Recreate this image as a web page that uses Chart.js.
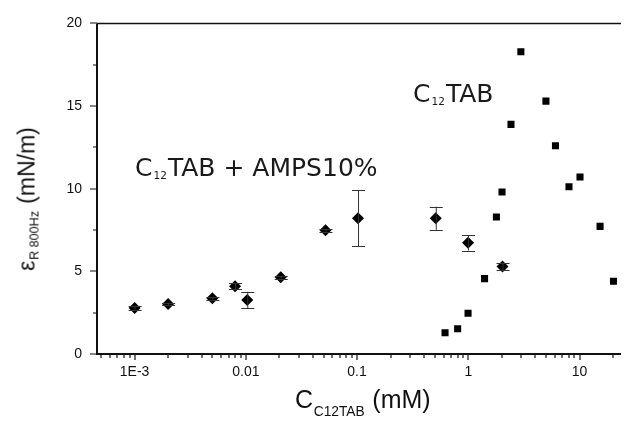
<!DOCTYPE html>
<html><head><meta charset="utf-8">
<script src="https://cdn.jsdelivr.net/npm/chart.js@4.4.0/dist/chart.umd.min.js"></script>
<style>
body{margin:0;background:#fff;}
#wrap{position:relative;width:627px;height:421px;overflow:hidden;background:#fff;}
canvas{position:absolute;left:0;top:0;}
.lbl{position:absolute;white-space:nowrap;color:#1a1a1a;font-family:"DejaVu Sans",sans-serif;font-weight:400;line-height:1;}
.lbl sub{font-size:0.42em;vertical-align:baseline;position:relative;top:0.3em;margin:0 0.1em;}
.ax{font-family:"Liberation Sans",Arial,sans-serif;font-weight:400;color:#111;}
.ax sub{font-size:0.55em;top:0.35em;margin:0 0.05em;}
.xt sub{top:0.6em;}
</style></head><body>
<div id="wrap"><canvas id="c" width="627" height="421"></canvas>
<div class="lbl" style="left:135px;top:155px;font-size:25px;">C<sub>12</sub>TAB + AMPS10%</div>
<div class="lbl" style="left:413px;top:81px;font-size:25px;">C<sub>12</sub>TAB</div>
<div class="lbl ax xt" style="left:295px;top:387px;font-size:25px;">C<sub>C12TAB</sub> (mM)</div>
<div class="lbl ax" style="left:27px;top:199px;font-size:23px;transform:translate(-50%,-50%) rotate(-90deg);">&epsilon;<sub>R 800Hz</sub> (mN/m)</div>
</div>
<script>
// C12TAB + AMPS10% (diamonds, with error bars)
const ampsX   = [0.001, 0.002, 0.005, 0.008, 0.0103, 0.0206, 0.052, 0.102, 0.51, 0.995, 2.03];
const ampsY   = [2.78, 3.02, 3.37, 4.10, 3.27, 4.64, 7.48, 8.21, 8.21, 6.73, 5.30];
const ampsErr = [0.10, 0.08, 0.08, 0.18, 0.50, 0.08, 0.08, 1.70, 0.70, 0.47, 0.22];
// C12TAB (squares)
const c12X = [0.618, 0.802, 0.995, 1.40, 1.79, 2.01, 2.42, 2.97, 4.99, 6.08, 8.04, 10.1, 15.3, 20.2];
const c12Y = [1.29, 1.53, 2.46, 4.56, 8.29, 9.80, 13.89, 18.29, 15.30, 12.60, 10.12, 10.71, 7.72, 4.40];
// axes
const xMin = 4.59e-4, xMax = 23.6;
const xTicks = [0.001, 0.01, 0.1, 1, 10];
const xTickLabels = ['1E-3', '0.01', '0.1', '1', '10'];
const yTicks = [0, 5, 10, 15, 20];
const yMinorTicks = [2.5, 7.5, 12.5, 17.5];
const xMinorMult = [2, 3, 4, 5, 6, 7, 8, 9];

const frame = {
  id: 'frame',
  afterDatasetsDraw(chart) {
    const ctx = chart.ctx, xs = chart.scales.x, ys = chart.scales.y, a = chart.chartArea;
    ctx.save();
    // error bars
    ctx.strokeStyle = '#333'; ctx.lineWidth = 1;
    ampsX.forEach((x, i) => {
      const px = xs.getPixelForValue(x);
      const t = ys.getPixelForValue(ampsY[i] + ampsErr[i]);
      const b = ys.getPixelForValue(ampsY[i] - ampsErr[i]);
      ctx.beginPath();
      ctx.moveTo(px + 0.5, t); ctx.lineTo(px + 0.5, b);
      ctx.moveTo(px - 6, Math.round(t) + 0.5); ctx.lineTo(px + 7, Math.round(t) + 0.5);
      ctx.moveTo(px - 6, Math.round(b) + 0.5); ctx.lineTo(px + 7, Math.round(b) + 0.5);
      ctx.stroke();
    });
    // axis lines
    ctx.strokeStyle = '#111'; ctx.lineWidth = 2;
    ctx.beginPath();
    ctx.moveTo(a.left, a.top); ctx.lineTo(a.left, a.bottom + 1);
    ctx.moveTo(a.left - 1, a.bottom); ctx.lineTo(a.right, a.bottom);
    ctx.stroke();
    ctx.lineWidth = 1.5;
    ctx.beginPath();
    ctx.moveTo(a.left, a.top); ctx.lineTo(a.right, a.top);
    ctx.stroke();
    // ticks
    ctx.lineWidth = 1.2;
    ctx.beginPath();
    yTicks.forEach(v => { const p = Math.round(ys.getPixelForValue(v)); ctx.moveTo(a.left - 7, p); ctx.lineTo(a.left, p); });
    yMinorTicks.forEach(v => { const p = Math.round(ys.getPixelForValue(v)); ctx.moveTo(a.left - 4, p); ctx.lineTo(a.left, p); });
    xTicks.forEach(v => { const p = Math.round(xs.getPixelForValue(v)); ctx.moveTo(p, a.bottom); ctx.lineTo(p, a.bottom + 6); });
    [0.0001, 0.001, 0.01, 0.1, 1, 10].forEach(d => xMinorMult.forEach(m => {
      const v = d * m;
      if (v > xMin && v < xMax) { const p = Math.round(xs.getPixelForValue(v)); ctx.moveTo(p, a.bottom); ctx.lineTo(p, a.bottom + 4); }
    }));
    ctx.stroke();
    ctx.restore();
  }
};

new Chart(document.getElementById('c'), {
  type: 'scatter',
  data: {
    datasets: [
      { label: 'C12TAB + AMPS10%', data: ampsX.map((x, i) => ({x, y: ampsY[i]})),
        pointStyle: 'rectRot', pointRadius: 6, backgroundColor: '#000', borderColor: '#000', borderWidth: 0 },
      { label: 'C12TAB', data: c12X.map((x, i) => ({x, y: c12Y[i]})),
        pointStyle: 'rect', pointRadius: 5, backgroundColor: '#000', borderColor: '#000', borderWidth: 0 }
    ]
  },
  options: {
    responsive: false, animation: false, devicePixelRatio: 1,
    layout: { padding: { top: 18, right: 0, left: 0, bottom: 0 } },
    plugins: { legend: { display: false }, tooltip: { enabled: false } },
    scales: {
      x: {
        type: 'logarithmic', min: xMin, max: xMax,
        grid: { display: false, drawTicks: false }, border: { display: false },
        afterBuildTicks: s => { s.ticks = xTicks.map(v => ({ value: v })); },
        afterFit: s => { s.height = 67; },
        ticks: { callback: (v, i) => xTickLabels[i], padding: 10, color: '#111', maxRotation: 0, autoSkip: false,
                 font: { family: '"Liberation Sans", Arial, sans-serif', size: 14 } }
      },
      y: {
        min: 0, max: 20,
        grid: { display: false, drawTicks: false }, border: { display: false },
        afterBuildTicks: s => { s.ticks = yTicks.map(v => ({ value: v })); },
        afterFit: s => { s.width = 97; },
        ticks: { padding: 15, color: '#111', font: { family: '"Liberation Sans", Arial, sans-serif', size: 14 } }
      }
    }
  },
  plugins: [frame]
});
</script>
</body></html>
